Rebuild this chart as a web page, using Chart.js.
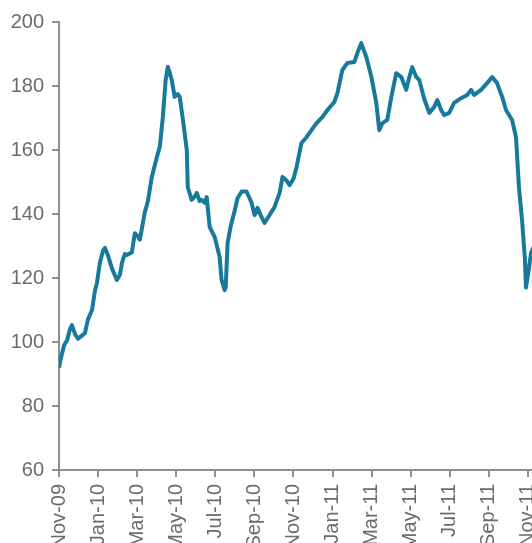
<!DOCTYPE html>
<html>
<head>
<meta charset="utf-8">
<script src="https://cdn.jsdelivr.net/npm/chart.js@4.4.1/dist/chart.umd.min.js"></script>
<style>
  html, body { margin: 0; padding: 0; background: #fff; overflow: hidden; }
  #wrap { width: 598px; height: 560px; }
</style>
</head>
<body>
<div id="wrap"><canvas id="chart" width="598" height="560"></canvas></div>
<script>
// months since Nov-09 (x) and index level (y)
const monthOffsets = [
  0.00, 0.10, 0.26, 0.41, 0.56, 0.66, 0.82, 0.97, 1.17, 1.33,
  1.48, 1.69, 1.84, 1.94, 2.09, 2.25, 2.35, 2.50, 2.71, 2.96,
  3.12, 3.22, 3.37, 3.47, 3.73, 3.88, 4.04, 4.14, 4.39, 4.55,
  4.75, 5.01, 5.16, 5.31, 5.46, 5.57, 5.67, 5.77, 5.92, 6.08,
  6.18, 6.33, 6.54, 6.59, 6.79, 6.95, 7.05, 7.20, 7.30, 7.46,
  7.56, 7.71, 7.97, 8.22, 8.32, 8.48, 8.53, 8.63, 8.78, 8.99,
  9.14, 9.35, 9.60, 9.75, 9.86, 10.01, 10.16, 10.37, 10.52, 10.78,
  11.03, 11.29, 11.44, 11.64, 11.80, 12.00, 12.16, 12.41, 12.67, 12.92,
  13.18, 13.48, 13.74, 14.09, 14.25, 14.50, 14.76, 15.12, 15.27, 15.47,
  15.73, 15.99, 16.24, 16.39, 16.55, 16.80, 17.01, 17.26, 17.52, 17.77,
  17.93, 18.08, 18.28, 18.44, 18.69, 18.95, 19.20, 19.36, 19.56, 19.71,
  19.97, 20.22, 20.58, 20.89, 21.09, 21.25, 21.60, 21.91, 22.17, 22.42,
  22.68, 22.88, 23.19, 23.39, 23.54, 23.70, 23.85, 23.90, 24.06, 24.16,
  24.31
];
const prices = [
  92, 95, 99, 100.5, 104, 105.3, 102.5, 101, 102, 102.8,
  107, 110, 116, 118.4, 124.7, 128.5, 129.4, 127.2, 123, 119.4,
  121, 124.7, 127.5, 127.2, 128, 134, 133, 132, 140.5, 144,
  151.6, 157.8, 161, 170, 181.9, 186, 184, 181.9, 176.6, 177.5,
  176.6, 170, 160, 148.4, 144.4, 145.5, 146.6, 144, 144.4, 143.5,
  145.3, 136, 132.8, 126.6, 119.4, 116.2, 117, 131, 136, 141,
  145, 147, 147, 145, 143.4, 139.7, 141.9, 139, 137.2, 139.7,
  142.2, 146.6, 151.6, 150.5, 149, 151, 154.7, 162.2, 164, 166.2,
  168.4, 170.3, 172.5, 175, 177.8, 185, 187.2, 187.5, 190.3, 193.4,
  189, 182.8, 174.7, 166.2, 168.4, 169.4, 176.6, 184, 182.8, 178.8,
  182.8, 185.9, 182.8, 181.9, 176, 171.6, 173.4, 175.6, 172.5, 170.9,
  171.6, 174.7, 176.2, 177.2, 178.8, 177.2, 178.8, 180.9, 182.8, 180.9,
  176.6, 172.5, 169.4, 164, 148.4, 138, 125.6, 117, 123.4, 127.8,
  130
];
const tickLabels = [
  "Nov-09", "Jan-10", "Mar-10", "May-10", "Jul-10", "Sep-10", "Nov-10",
  "Jan-11", "Mar-11", "May-11", "Jul-11", "Sep-11", "Nov-11", "Jan-12"
];

const axisGrey = "#8f8f8f";
const textGrey = "#6b6b6b";
const labelFont = { family: "'Liberation Sans', Arial, sans-serif", size: 20 };

const ctx = document.getElementById("chart").getContext("2d");
new Chart(ctx, {
  type: "line",
  data: {
    datasets: [
      {
        data: monthOffsets.map((m, i) => ({ x: m, y: prices[i] })),
        borderColor: "#17799c",
        borderWidth: 4,
        pointRadius: 0,
        fill: false,
        tension: 0,
        borderJoinStyle: "round",
      },
    ],
  },
  options: {
    responsive: false,
    animation: false,
    layout: { padding: { top: 22, right: 22, left: 0, bottom: 0 } },
    plugins: { legend: { display: false }, tooltip: { enabled: false } },
    scales: {
      x: {
        type: "linear",
        min: 0,
        max: 26,
        afterFit: (scale) => { scale.height = 90; },
        grid: { drawOnChartArea: false, color: axisGrey, lineWidth: 2, tickLength: 7 },
        border: { display: true, color: axisGrey, width: 2 },
        ticks: {
          stepSize: 2,
          autoSkip: false,
          includeBounds: false,
          minRotation: 90,
          maxRotation: 90,
          padding: 7,
          color: textGrey,
          font: labelFont,
          callback: (value) => tickLabels[value / 2] ?? "",
        },
      },
      y: {
        min: 60,
        max: 200,
        afterFit: (scale) => { scale.width = 59; },
        grid: { drawOnChartArea: false, color: axisGrey, lineWidth: 2, tickLength: 7 },
        border: { display: true, color: axisGrey, width: 2 },
        ticks: {
          stepSize: 20,
          padding: 8,
          color: textGrey,
          font: labelFont,
        },
      },
    },
  },
});
</script>
</body>
</html>
